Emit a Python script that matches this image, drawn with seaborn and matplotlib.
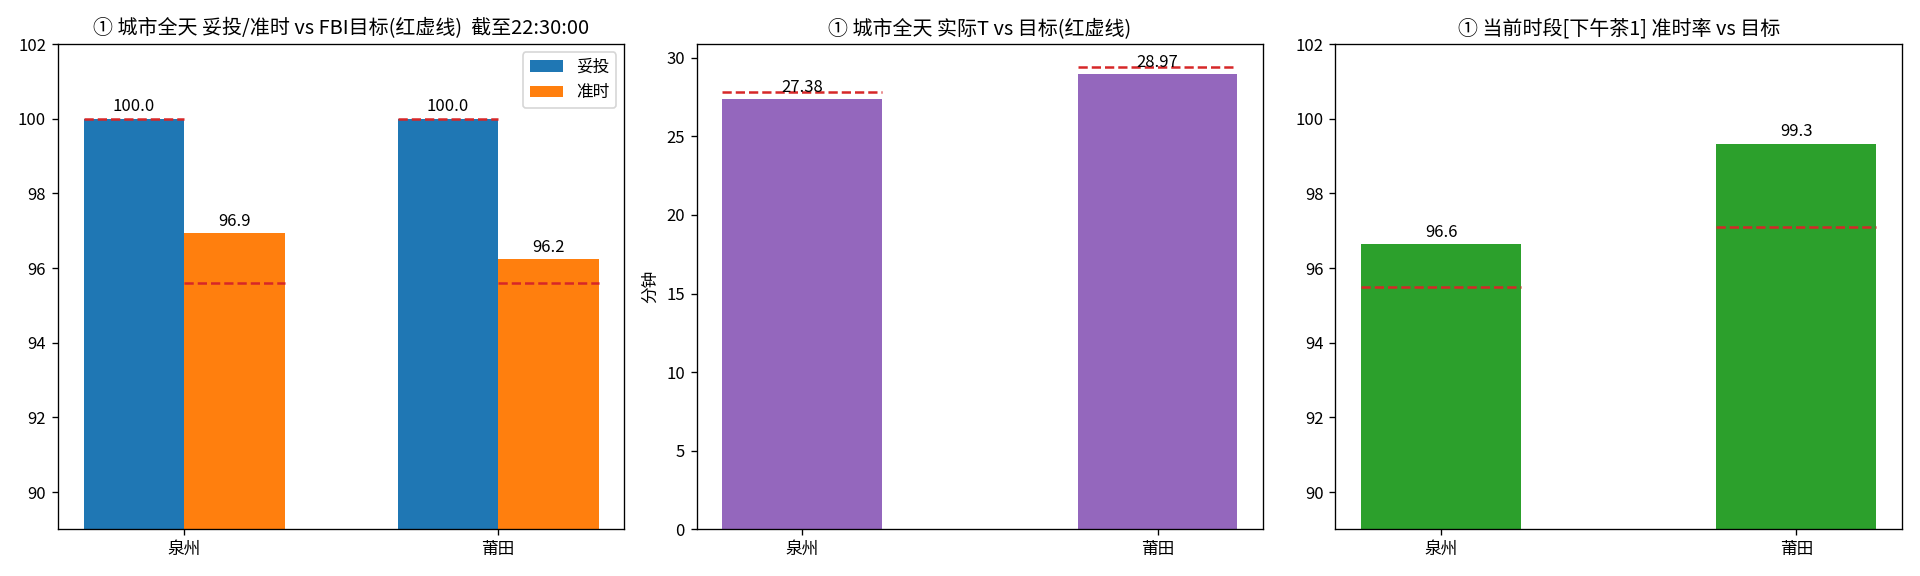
import pandas as pd
import matplotlib
matplotlib.use('Agg')
import matplotlib.pyplot as plt
import seaborn as sns

# 数据
cities = ['泉州', '莆田']
tuotou = [100.0, 100.0]
zhunshi = [96.93, 96.24]
tuotou_target = [100.0, 100.0]
zhunshi_target = [95.6, 95.6]
actual_t = [27.38, 28.97]
t_target = [27.8, 29.4]
period_rate = [96.64, 99.33]
period_target = [95.48, 97.09]

plt.rcParams['font.family'] = ['Noto Sans CJK SC', 'DejaVu Sans']
plt.rcParams['axes.unicode_minus'] = False

fig, axes = plt.subplots(1, 3, figsize=(16, 4.8), dpi=120)

# 图1: 妥投/准时
df1 = pd.DataFrame({
    '城市': cities * 2,
    '指标': ['妥投'] * 2 + ['准时'] * 2,
    '值': tuotou + zhunshi,
})
w = 0.32
ax = axes[0]
sns.barplot(data=df1, x='城市', y='值', hue='指标', palette=['#1f77b4', '#ff7f0e'],
            width=2 * w, saturation=1, linewidth=0, ax=ax)
for c in ax.containers:
    ax.bar_label(c, fmt='%.1f', padding=2)
for i in range(len(cities)):
    ax.hlines(tuotou_target[i], i - w, i, colors='tab:red', linestyles='--', lw=1.5)
    ax.hlines(zhunshi_target[i], i, i + w, colors='tab:red', linestyles='--', lw=1.5)
ax.set_ylim(89, 102)
ax.set_xlim(-0.402, 1.402)
ax.set_xlabel('')
ax.set_ylabel('')
ax.set_title('① 城市全天 妥投/准时 vs FBI目标(红虚线)  截至22:30:00')
sns.move_legend(ax, 'upper right', title=None)

# 图2: 实际T
w2 = 0.45
ax = axes[1]
df2 = pd.DataFrame({'城市': cities, '实际T': actual_t})
sns.barplot(data=df2, x='城市', y='实际T', color='#9467bd', width=w2, saturation=1,
            linewidth=0, ax=ax)
for c in ax.containers:
    ax.bar_label(c, fmt='%.2f', padding=2)
for i in range(len(cities)):
    ax.hlines(t_target[i], i - w2 / 2, i + w2 / 2, colors='tab:red', linestyles='--', lw=1.5)
ax.set_xlim(-0.2975, 1.2975)
ax.set_ylim(0, t_target[1] * 1.05)
ax.set_xlabel('')
ax.set_ylabel('分钟')
ax.set_title('① 城市全天 实际T vs 目标(红虚线)')

# 图3: 当前时段准时率
ax = axes[2]
df3 = pd.DataFrame({'城市': cities, '准时率': period_rate})
sns.barplot(data=df3, x='城市', y='准时率', color='#2ca02c', width=w2, saturation=1,
            linewidth=0, ax=ax)
for c in ax.containers:
    ax.bar_label(c, fmt='%.1f', padding=2)
for i in range(len(cities)):
    ax.hlines(period_target[i], i - w2 / 2, i + w2 / 2, colors='tab:red', linestyles='--', lw=1.5)
ax.set_xlim(-0.2975, 1.2975)
ax.set_ylim(89, 102)
ax.set_xlabel('')
ax.set_ylabel('')
ax.set_title('① 当前时段[下午茶1] 准时率 vs 目标')

plt.tight_layout()
plt.savefig('out.png')
